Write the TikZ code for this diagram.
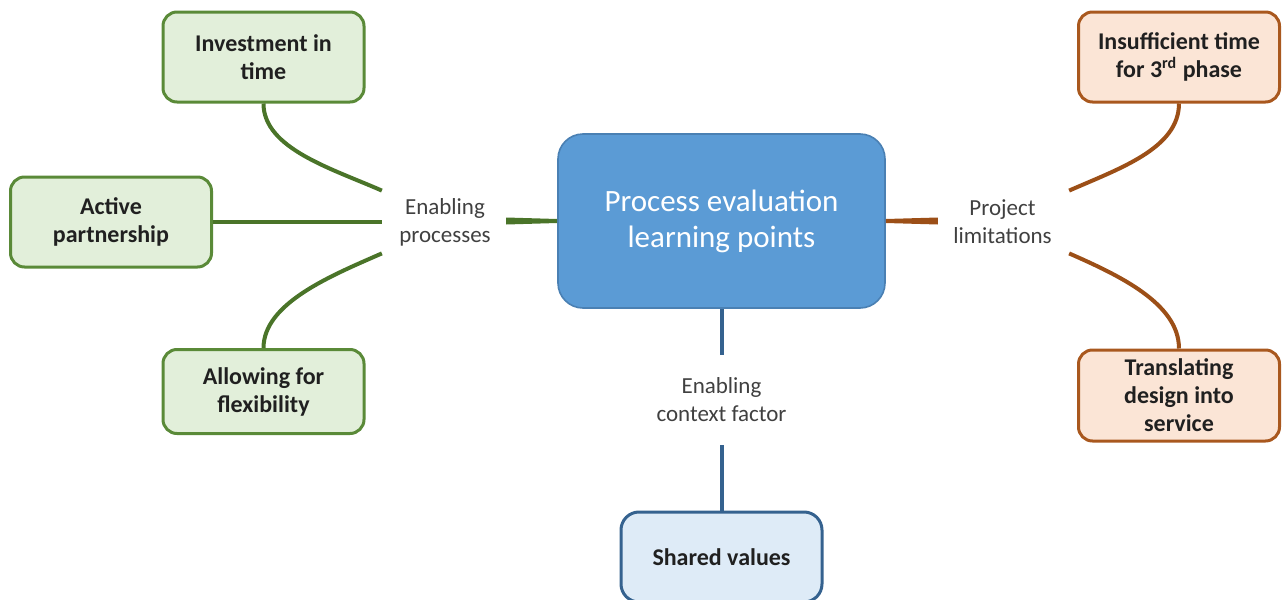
\documentclass[tikz,border=0pt]{standalone}
\usepackage{fontspec}
\setmainfont{Carlito}
\usetikzlibrary{calc}
\definecolor{grnedge}{HTML}{5A8A38}
\definecolor{grnfill}{HTML}{E2EFDA}
\definecolor{grnline}{HTML}{4A7429}
\definecolor{brnedge}{HTML}{A9581E}
\definecolor{brnfill}{HTML}{FBE5D6}
\definecolor{brnline}{HTML}{9C4F17}
\definecolor{bluefill}{HTML}{5B9BD5}
\definecolor{blueedge}{HTML}{4A80B3}
\definecolor{bluepale}{HTML}{DEEBF7}
\definecolor{bluedark}{HTML}{35628F}
\definecolor{lbltext}{HTML}{404040}
\definecolor{boxtext}{HTML}{202020}

\begin{document}
\begin{tikzpicture}[x=0.5pt,y=-0.5pt,
    box/.style={draw,line width=1.5pt,rounded corners=7pt,minimum width=100.5pt,
      minimum height=45pt,align=center,text=boxtext,
      font=\fontsize{12}{14}\selectfont\bfseries},
    grnbox/.style={box,draw=grnedge,fill=grnfill},
    brnbox/.style={box,draw=brnedge,fill=brnfill},
    lbl/.style={align=center,text=lbltext,inner xsep=8.5pt,minimum height=31pt,
      font=\fontsize{11.5}{14}\selectfont},
    link/.style={line width=2pt}]
  \useasboundingbox (0,0) rectangle (1282,600);

  % centre
  \node [draw=blueedge,fill=bluefill,line width=0.8pt,rounded corners=12.5pt,
    minimum width=163.5pt,minimum height=87pt,align=center,text=white,
    font=\fontsize{15.5}{18}\selectfont] (main) at (721.5,221) {Process evaluation\\learning points};

  % enabling processes
  \node [lbl] (enab) at (445,222) {Enabling\\processes};
  \node [grnbox] (inv) at (263.5,57) {Investment in\\time};
  \node [grnbox] (act) at (111,222) {Active\\partnership};
  \node [grnbox,minimum height=42pt] (flex) at (263.5,391.5) {Allowing for\\flexibility};
  \draw [link,grnline] (inv.south) .. controls +(0,45) and +(-50,-22) .. (enab.north west);
  \draw [link,grnline] (act.east) -- (enab.west);
  \fill [grnline] ($(enab.east |- main.west)+(-2,-3.5)$) -- ($(main.west)+(0,-2)$)
    -- ($(main.west)+(0,2)$) -- ($(enab.east |- main.west)+(-2,3.5)$) -- cycle;
  \draw [link,grnline] (flex.north) .. controls +(0,-45) and +(-50,22) .. (enab.south west);

  % project limitations
  \node [lbl] (lim) at (1002.5,222) {Project\\limitations};
  \node [brnbox] (insuf) at (1179,57) {Insufficient time\\for 3\textsuperscript{rd} phase};
  \node [brnbox,minimum height=45.5pt] (trans) at (1179,395.5) {Translating\\design into\\service};
  \draw [link,brnline] (insuf.south) .. controls +(0,45) and +(50,-22) .. (lim.north east);
  \fill [brnline] ($(main.east)+(0,-2)$) -- ($(lim.west |- main.east)+(2,-3.5)$)
    -- ($(lim.west |- main.east)+(2,3.5)$) -- ($(main.east)+(0,2)$) -- cycle;
  \draw [link,brnline] (trans.north) .. controls +(0,-45) and +(50,22) .. (lim.south east);

  % context factor
  \node [lbl,minimum height=45pt] (ctx) at (721.5,400) {Enabling\\context factor};
  \node [box,draw=bluedark,fill=bluepale,rounded corners=9pt] (shared) at (721.5,557) {Shared values};
  \draw [link,bluedark] (main.south) -- (ctx.north);
  \draw [link,bluedark] (ctx.south) -- (shared.north);
\end{tikzpicture}
\end{document}
